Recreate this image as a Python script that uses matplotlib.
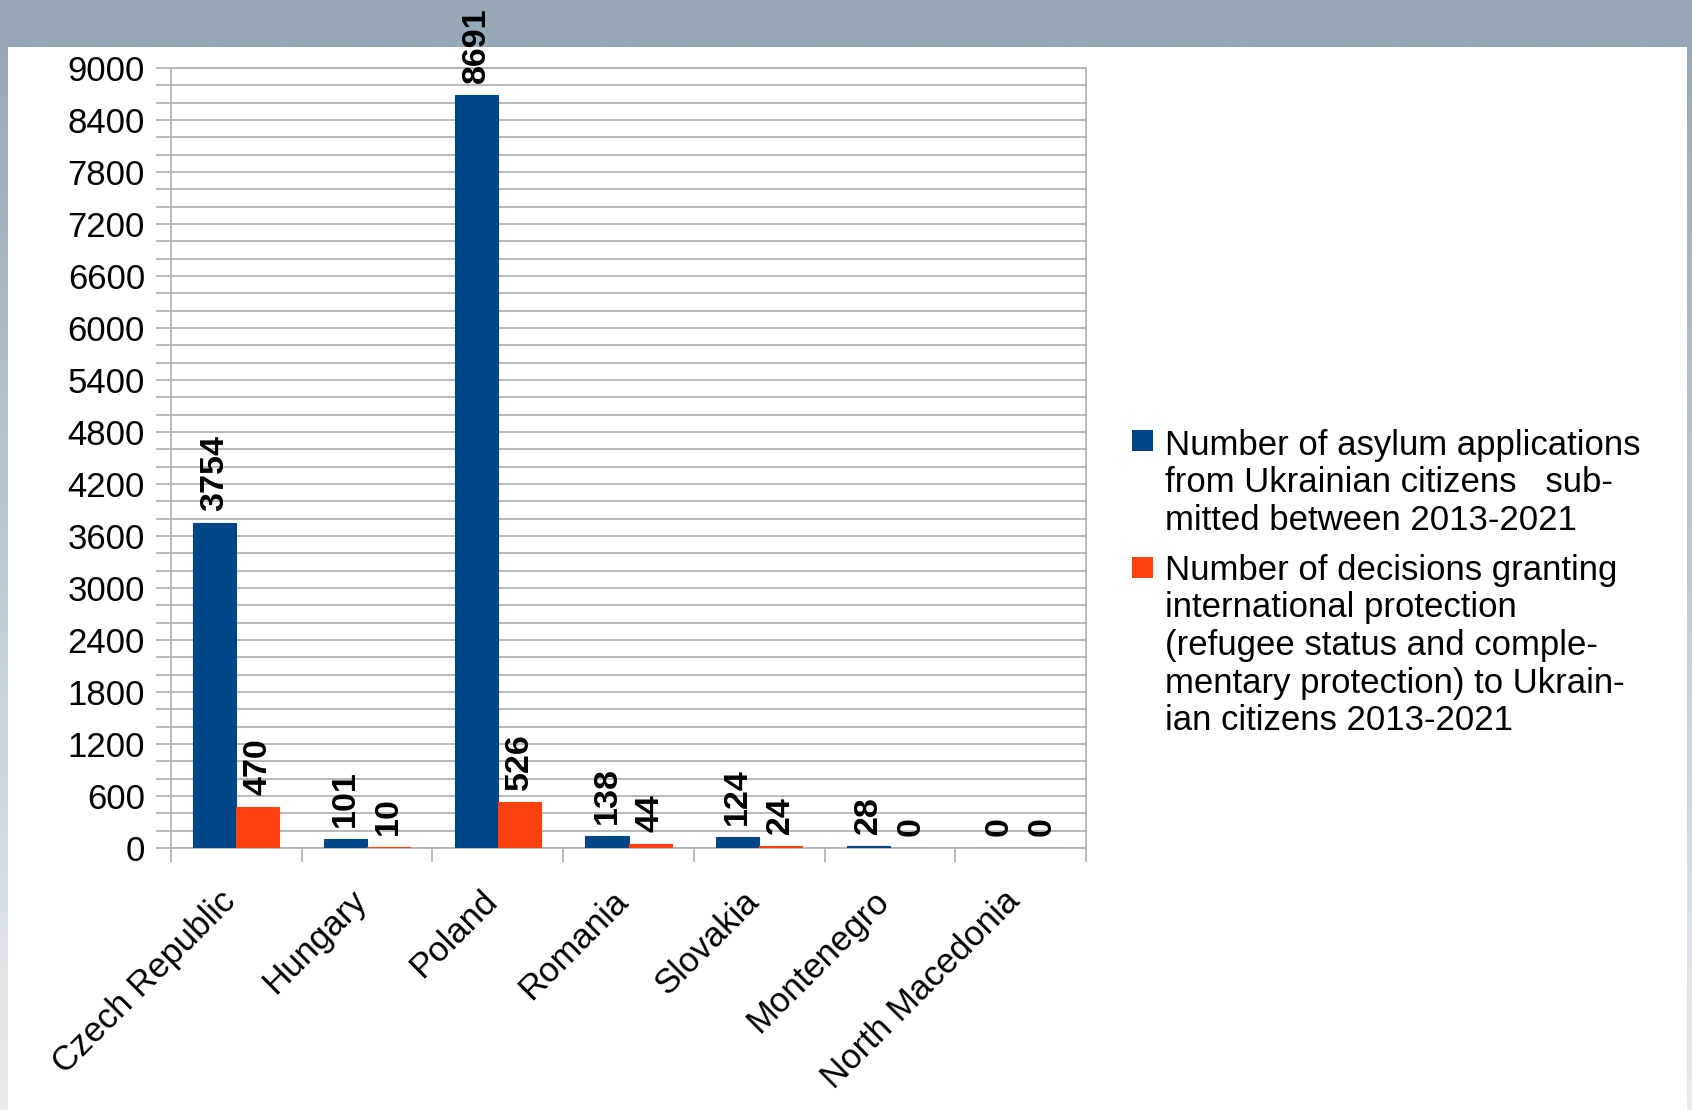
import numpy as np
import matplotlib
matplotlib.use("Agg")
import matplotlib.pyplot as plt
from matplotlib.patches import Rectangle
from matplotlib.transforms import ScaledTranslation
from matplotlib.colors import to_rgb

plt.rcParams['font.family'] = ['Liberation Sans', 'DejaVu Sans']

categories = ["Czech Republic", "Hungary", "Poland", "Romania", "Slovakia",
              "Montenegro", "North Macedonia"]
applications = [3754, 101, 8691, 138, 124, 28, 0]
decisions = [470, 10, 526, 44, 24, 0, 0]
series_names = [
    ["Number of asylum applications",
     "from Ukrainian citizens   sub-",
     "mitted between 2013-2021"],
    ["Number of decisions granting",
     "international protection",
     "(refugee status and comple-",
     "mentary protection) to Ukrain-",
     "ian citizens 2013-2021"],
]
colors = ["#004586", "#ff420e"]
y_major = list(range(0, 9001, 600))
y_minor = list(range(0, 9001, 200))

W, H = 1692, 1110
fig = plt.figure(figsize=(W / 100, H / 100), dpi=100)

def fx(px):
    return px / W

def fy(py):
    return 1 - py / H

# background gradient
bg = fig.add_axes([0, 0, 1, 1], zorder=-10)
c0 = np.array(to_rgb("#97a9b6"))
c1 = np.array(to_rgb("#e8ecef"))
t = np.clip((np.linspace(0, 1, 400) - 0.04) / 0.96, 0, 1)[:, None]
grad = (c0 * (1 - t) + c1 * t)[:, None, :]
bg.imshow(grad, aspect='auto', extent=[0, 1, 0, 1], origin='upper')
bg.set_xlim(0, 1)
bg.set_ylim(0, 1)
bg.axis('off')
bg.add_patch(Rectangle((fx(8), 0), fx(1687) - fx(8), fy(47), color='white', lw=0))

ax = fig.add_axes([fx(171), fy(848), fx(1086) - fx(171), (848 - 68) / H])
ax.set_facecolor('none')
x = np.arange(len(categories))
bw = 0.33
ax.bar(x - bw / 2, applications, bw, color=colors[0], edgecolor=colors[0],
       linewidth=0.8, zorder=3)
ax.bar(x + bw / 2, decisions, bw, color=colors[1], edgecolor=colors[1],
       linewidth=0.8, zorder=3)

for xi, v in zip(x - bw / 2, applications):
    ax.annotate(str(v), (xi, v), xytext=(0, 8.6), textcoords='offset points',
                rotation=90, ha='center', va='bottom', fontsize=24.5,
                fontweight='bold', annotation_clip=False, zorder=5)
for xi, v in zip(x + bw / 2, decisions):
    ax.annotate(str(v), (xi, v), xytext=(0, 8.6), textcoords='offset points',
                rotation=90, ha='center', va='bottom', fontsize=24.5,
                fontweight='bold', annotation_clip=False, zorder=5)

gcol = "#b3b3b3"
ax.set_xlim(-0.5, len(categories) - 0.5)
ax.set_ylim(0, 9000)
ax.set_yticks(y_major)
ax.set_yticks(y_minor, minor=True)
ax.set_yticklabels([str(v) for v in y_major], fontsize=25)
ax.tick_params(axis='y', which='both', length=10.8, width=1.3, color=gcol,
               direction='out', pad=7.9)
ax.grid(axis='y', which='both', color=gcol, lw=1.3, zorder=0)
ax.set_axisbelow(True)

ax.set_xticks(x)
ax.set_xticks(np.arange(-0.5, len(categories), 1.0), minor=True)
ax.tick_params(axis='x', which='major', length=0, pad=26.0)
ax.tick_params(axis='x', which='minor', length=10, width=1.3, color=gcol,
               direction='out')
ax.set_xticklabels(categories, fontsize=25, rotation=45, ha='right',
                   va='top', rotation_mode='anchor')
off = ScaledTranslation(-17.5 / 100, 0, fig.dpi_scale_trans)
for lab in ax.get_xticklabels():
    lab.set_transform(lab.get_transform() + off)

for s in ax.spines.values():
    s.set_color(gcol)
    s.set_linewidth(1.3)

# legend
line_pitch = 37.5
entry_base = [455, 580]
sq_top = [430, 557]
for name_lines, col, b0, st in zip(series_names, colors, entry_base, sq_top):
    fig.patches.append(Rectangle((fx(1132), fy(st + 21)), fx(21), 21 / H,
                                 color=col, lw=0, transform=fig.transFigure))
    for i, ln in enumerate(name_lines):
        fig.text(fx(1165), fy(b0 + i * line_pitch), ln, fontsize=25,
                 ha='left', va='baseline')

fig.savefig("out.png", dpi=100)
